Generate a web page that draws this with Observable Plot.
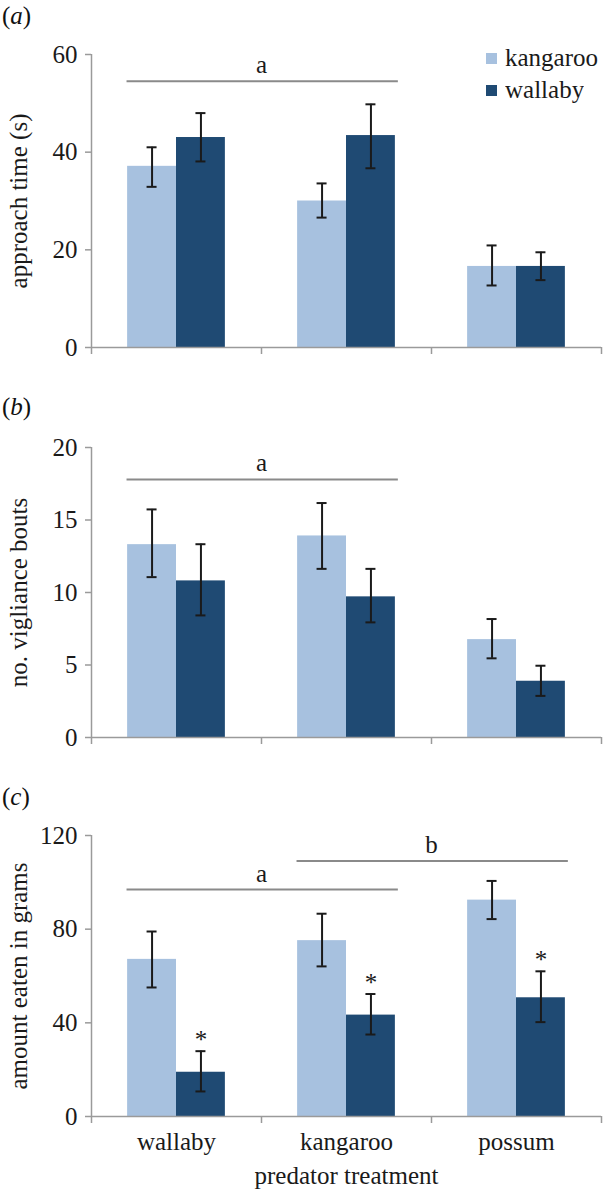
<!DOCTYPE html>
<html><head><meta charset="utf-8">
<script src="https://cdn.jsdelivr.net/npm/d3@7"></script>
<script src="https://cdn.jsdelivr.net/npm/@observablehq/plot@0.6"></script>
<style>
body { margin:0; background:#fff; font-family:"Liberation Serif","DejaVu Serif",serif; }
#root { width:604px; }
.panel { position:relative; width:604px; }
.panel svg { display:block; }
.panel svg text { font-family:"Liberation Serif","DejaVu Serif",serif !important; }
.plabel { position:absolute; left:2px; font-size:25px; line-height:1; color:#111; font-family:"Liberation Serif",serif; }
.legendbox { position:absolute; left:486px; top:44px; width:118px; }
.legendbox, .legendbox * { font-family:"Liberation Serif","DejaVu Serif",serif !important; }
.lg-swatch { padding-bottom:4px !important; }
.lg-swatch svg { margin-right:8px !important; }
</style></head><body><div id="root"></div>
<script>
// ---- data ----
const categories = ["wallaby", "kangaroo", "possum"];   // predator treatment
const species = ["kangaroo", "wallaby"];
const colors = ["#a7c1df", "#1f4a73"];

// (a) approach time (s)
const approachKangaroo   = [37.1, 30.0, 16.6];
const approachKangarooLo = [32.9, 26.6, 12.7];
const approachKangarooHi = [41.0, 33.6, 20.9];
const approachWallaby    = [43.0, 43.4, 16.6];
const approachWallabyLo  = [38.1, 36.7, 13.8];
const approachWallabyHi  = [48.0, 49.8, 19.5];
const approachTicks = [0, 20, 40, 60];
const approachBrackets = [{label: "a", from: "wallaby", to: "kangaroo", y: 54.5}];

// (b) no. vigilance bouts
const vigilKangaroo   = [13.3, 13.9, 6.75];
const vigilKangarooLo = [11.06, 11.63, 5.46];
const vigilKangarooHi = [15.73, 16.17, 8.17];
const vigilWallaby    = [10.8, 9.7, 3.88];
const vigilWallabyLo  = [8.42, 7.94, 2.87];
const vigilWallabyHi  = [13.33, 11.63, 4.95];
const vigilTicks = [0, 5, 10, 15, 20];
const vigilBrackets = [{label: "a", from: "wallaby", to: "kangaroo", y: 17.8}];

// (c) amount eaten in grams
const eatenKangaroo   = [67.1, 75.1, 92.4];
const eatenKangarooLo = [55.1, 64.1, 84.3];
const eatenKangarooHi = [79.0, 86.6, 100.6];
const eatenWallaby    = [18.9, 43.3, 50.7];
const eatenWallabyLo  = [10.7, 35.0, 40.3];
const eatenWallabyHi  = [27.9, 52.3, 62.0];
const eatenTicks = [0, 40, 80, 120];
const eatenBrackets = [
  {label: "a", from: "wallaby", to: "kangaroo", y: 96.9},
  {label: "b", from: "kangaroo", to: "possum", y: 109.1}
];
const eatenStars = ["wallaby", "kangaroo", "possum"]; // wallaby-odour bars marked *

function rows(mk, lk, hk, mw, lw, hw) {
  const out = [];
  categories.forEach((c, i) => {
    out.push({cat: c, species: species[0], value: mk[i], lo: lk[i], hi: hk[i]});
    out.push({cat: c, species: species[1], value: mw[i], lo: lw[i], hi: hw[i]});
  });
  return out;
}

const FONT = "Liberation Serif, DejaVu Serif, serif";
const GRAY = "#9a9a9a";
const INK = "#1a1a1a";
const W = 604, ML = 91, MR = 3;
const bw = (W - ML - MR) / categories.length;
const groupStart = 0.2125;            // fraction of band before first bar
const barW = (0.5 - groupStart);      // each bar's fraction of band
const off = (groupStart + barW / 2 - 0.5) * bw; // center offset of first bar

const panels = [
  {tag: "a", ylabel: "approach time (s)", ticks: approachTicks,
   data: rows(approachKangaroo, approachKangarooLo, approachKangarooHi, approachWallaby, approachWallabyLo, approachWallabyHi),
   brackets: approachBrackets, stars: [], height: 380, mt: 54, mb: 33, labelTop: 3, legend: true, xlabels: false},
  {tag: "b", ylabel: "no. vigliance bouts", ticks: vigilTicks,
   data: rows(vigilKangaroo, vigilKangarooLo, vigilKangarooHi, vigilWallaby, vigilWallabyLo, vigilWallabyHi),
   brackets: vigilBrackets, stars: [], height: 380, mt: 67, mb: 23, labelTop: 14, legend: false, xlabels: false},
  {tag: "c", ylabel: "amount eaten in grams", ticks: eatenTicks,
   data: rows(eatenKangaroo, eatenKangarooLo, eatenKangarooHi, eatenWallaby, eatenWallabyLo, eatenWallabyHi),
   brackets: eatenBrackets, stars: eatenStars, height: 430, mt: 75, mb: 74, labelTop: 24, legend: false, xlabels: true}
];

const root = document.getElementById("root");

for (const p of panels) {
  const yMax = d3.max(p.ticks);
  const isK = d => d.species === species[0];
  const isW = d => d.species === species[1];
  const marks = [
    Plot.barY(p.data, {filter: isK, x: "cat", y: "value", fill: colors[0],
      insetLeft: groupStart * bw, insetRight: 0.5 * bw}),
    Plot.barY(p.data, {filter: isW, x: "cat", y: "value", fill: colors[1],
      insetLeft: 0.5 * bw, insetRight: groupStart * bw}),
    ...[[isK, off], [isW, -off]].flatMap(([f, dx]) => [
      Plot.ruleX(p.data, {filter: f, x: "cat", y1: "lo", y2: "hi", dx, stroke: INK, strokeWidth: 2}),
      Plot.tickY(p.data, {filter: f, x: "cat", y: "hi", dx, stroke: INK, strokeWidth: 2, insetLeft: bw / 2 - 5, insetRight: bw / 2 - 5}),
      Plot.tickY(p.data, {filter: f, x: "cat", y: "lo", dx, stroke: INK, strokeWidth: 2, insetLeft: bw / 2 - 5, insetRight: bw / 2 - 5})
    ]),
    Plot.ruleY([0], {stroke: GRAY, strokeWidth: 1.5}),
    Plot.ruleX([categories[0]], {x: d => d, dx: -bw / 2, y1: 0, y2: yMax, stroke: GRAY, strokeWidth: 1.5}),
    Plot.axisY(p.ticks, {anchor: "left", tickSize: 6, tickPadding: 8, stroke: GRAY, strokeWidth: 1.5,
      fill: INK, fontSize: 25, fontFamily: FONT, label: null}),
    Plot.axisX(categories, {anchor: "bottom", tickSize: 7, tickFormat: () => "", dx: -bw / 2,
      stroke: GRAY, strokeWidth: 1.5, label: null}),
    Plot.axisX(categories.slice(-1), {anchor: "bottom", tickSize: 7, tickFormat: () => "", dx: bw / 2,
      stroke: GRAY, strokeWidth: 1.5, label: null}),
    Plot.text([p.ylabel], {frameAnchor: "left", textAnchor: "middle", rotate: -90, dx: -73,
      fontSize: 25, fontFamily: FONT, fill: INK, text: d => d}),
    Plot.ruleY(p.brackets, {x1: "from", x2: "to", y: "y", stroke: "#8a8a8a", strokeWidth: 2,
      insetLeft: 0.209 * bw, insetRight: 0.195 * bw}),
    Plot.text(p.brackets, {x: "from", y: "y", dx: bw / 2, dy: -16, text: "label", fontSize: 25, fontFamily: FONT, fill: INK}),
    Plot.text(p.data, {filter: d => isW(d) && p.stars.includes(d.cat), x: "cat", y: "hi", dx: -off, dy: -11,
      text: () => "*", fontSize: 25, fontFamily: FONT, fill: INK})
  ];
  if (p.xlabels) {
    marks.push(Plot.axisX(categories, {anchor: "bottom", tickSize: 0, tickPadding: 16, fontSize: 25,
      fontFamily: FONT, fill: INK, label: null}));
    marks.push(Plot.text(["predator treatment"], {frameAnchor: "bottom", dy: 50, lineAnchor: "top",
      fontSize: 25, fontFamily: FONT, fill: INK, text: d => d}));
  }
  const chart = Plot.plot({
    width: W, height: p.height, marginLeft: ML, marginRight: MR, marginTop: p.mt, marginBottom: p.mb,
    style: {fontFamily: FONT, fontSize: "25px", color: INK, background: "#fff", overflow: "visible"},
    x: {domain: categories, padding: 0, label: null},
    y: {domain: [0, yMax], label: null},
    marks
  });
  const div = document.createElement("div");
  div.className = "panel";
  div.appendChild(chart);
  const lab = document.createElement("div");
  lab.className = "plabel";
  lab.style.top = p.labelTop + "px";
  lab.innerHTML = "(<i>" + p.tag + "</i>)";
  div.appendChild(lab);
  if (p.legend) {
    const lg = Plot.legend({
      color: {domain: species, range: colors},
      legend: "swatches", columns: 1, swatchSize: 11, className: "lg",
      style: {fontSize: "25px", fontFamily: FONT, color: INK}
    });
    const box = document.createElement("div");
    box.className = "legendbox";
    box.appendChild(lg);
    div.appendChild(box);
  }
  root.appendChild(div);
}
</script></body></html>
